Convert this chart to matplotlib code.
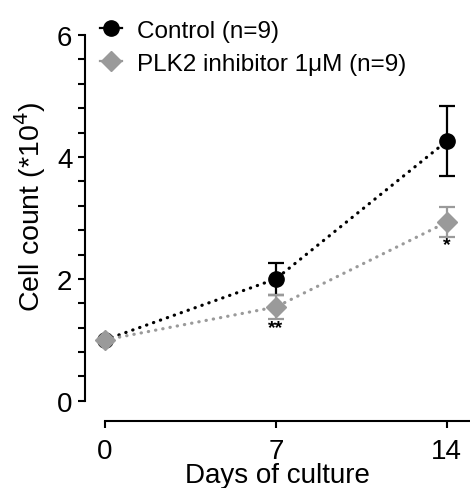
import matplotlib
matplotlib.use("Agg")
import matplotlib.pyplot as plt
import numpy as np
from matplotlib.lines import Line2D

plt.rcParams["font.family"] = ["Liberation Sans", "DejaVu Sans"]

# data
days = [0, 7, 14]
control_mean = [1.0, 2.0, 4.26]
control_err = [0.0, 0.26, 0.57]
plk2_mean = [1.0, 1.54, 2.93]
plk2_err = [0.0, 0.20, 0.25]
stars = ["", "**", "*"]
star_y = [None, 1.21, 2.56]
labels = ["Control (n=9)", "PLK2 inhibitor 1\u03bcM (n=9)"]

BLACK = "#000000"
GREY = "#9a9a9a"
DOTS = (0, (0.1, 2.2))

fig = plt.figure(figsize=(4.7, 4.89), dpi=100)
ax = fig.add_axes([85 / 470, 1 - 422 / 489, 385 / 470, 422 / 489])

series = [
    (control_mean, control_err, BLACK, "o", 11, 3),
    (plk2_mean, plk2_err, GREY, "D", 10, 4),
]
handles = []
for (mean, err, col, mk, ms, z), lab in zip(series, labels):
    ax.plot(days, mean, color=col, ls=DOTS, lw=2.3, dash_capstyle="round", zorder=z)
    ax.errorbar(days, mean, yerr=err, color=col, ls="none", marker=mk, ms=ms,
                capsize=6, capthick=1.6, elinewidth=1.6, zorder=z)
    handles.append(Line2D([], [], color=col, marker=mk, ms=ms, lw=1.6, label=lab))

for d, s, y in zip(days, stars, star_y):
    if s:
        ax.text(d, y, s, ha="center", va="center", fontsize=14, fontweight="bold")

ax.set_xlim(-0.82, 14.95)
ax.set_ylim(-0.33, 6.0 + 36 / 61)
ax.spines["top"].set_visible(False)
ax.spines["right"].set_visible(False)
ax.spines["left"].set_bounds(0, 6)
ax.spines["bottom"].set_bounds(0, 15)
for sp in ("left", "bottom"):
    ax.spines[sp].set_linewidth(1.5)

ax.set_xticks(days)
ax.set_yticks([0, 2, 4, 6])
ax.set_yticks(np.arange(0, 6.01, 0.4), minor=True)
ax.tick_params(axis="both", which="both", width=1.5, length=5, labelsize=20, pad=4)
ax.tick_params(axis="x", pad=7)

ax.set_xlabel("Days of culture", fontsize=20, va="center")
ax.xaxis.set_label_coords(0.5, -0.128)
ax.set_ylabel("Cell count (*10$^4$)", fontsize=20.5, va="center")
ax.yaxis.set_label_coords(-0.143, 0.51)

ax.legend(handles=handles, loc="upper left", bbox_to_anchor=(0.008, 0.98),
          frameon=False, fontsize=17.5, handlelength=0.9, handletextpad=0.6,
          labelspacing=0.45, borderaxespad=0.1)

fig.savefig("out.png", dpi=100)
